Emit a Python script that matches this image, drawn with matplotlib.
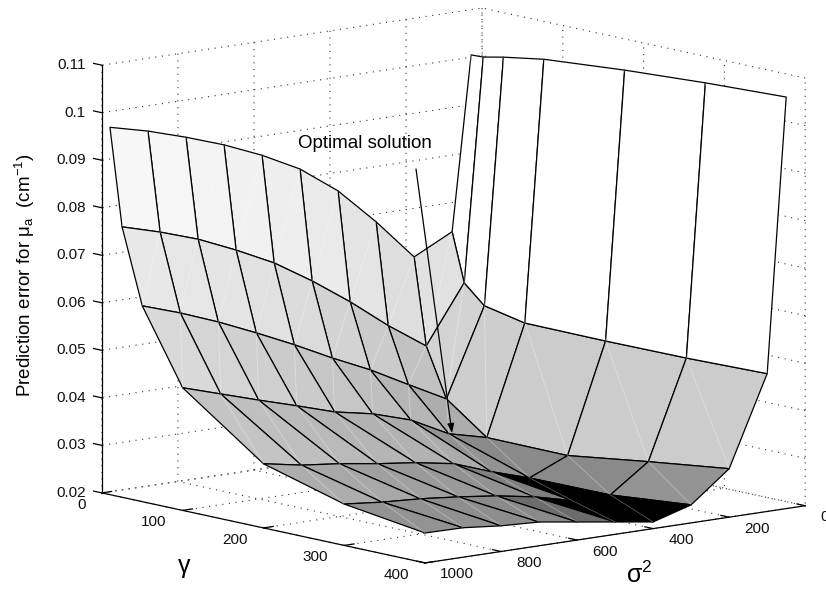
import matplotlib
matplotlib.use('Agg')
import matplotlib.pyplot as plt
import numpy as np
from mpl_toolkits.mplot3d import proj3d
from mpl_toolkits.mplot3d.art3d import Line3DCollection

plt.rcParams['font.family'] = ['Liberation Sans', 'DejaVu Sans']
plt.rcParams['mathtext.fontset'] = 'custom'
plt.rcParams['mathtext.rm'] = 'Liberation Sans'
plt.rcParams['mathtext.it'] = 'Liberation Sans'
plt.rcParams['mathtext.default'] = 'regular'

# grid of the regularisation scan
gamma = [10, 25, 50, 100, 200, 300, 400]
sigma2 = [1000, 900, 800, 700, 600, 500, 400, 300, 200, 100, 50]

# prediction error, one list per gamma
err_g10 = [.0973, .0953, .0928, .0900, .0866, .0825, .0767, .0690, .0604, .0645, .1011]
err_g25 = [.0769, .0746, .0719, .0684, .0645, .0595, .0539, .0477, .0422, .0543, .1012]
err_g50 = [.0612, .0585, .0554, .0519, .0482, .0442, .0405, .0362, .0320, .0504, .1021]
err_g100 = [.0458, .0433, .0408, .0384, .0359, .0343, .0318, .0277, .0257, .0486, .1035]
err_g200 = [.0335, .0320, .0311, .0299, .0289, .0275, .0246, .0221, .0256, .0485, .1049]
err_g300 = [.0287, .0279, .0274, .0266, .0256, .0242, .0222, .0222, .0280, .0486, .1059]
err_g400 = [.0263, .0262, .0254, .0250, .0238, .0226, .0214, .0238, .0302, .0490, .1066]

gamma_ticks = [0, 100, 200, 300, 400]
sigma2_ticks = [0, 200, 400, 600, 800, 1000]
err_ticks = [.02, .03, .04, .05, .06, .07, .08, .09, .1, .11]
err_ticklabels = ['0.02', '0.03', '0.04', '0.05', '0.06', '0.07', '0.08', '0.09', '0.1', '0.11']

# gray level of a facet against its corner value
level_z = [.0225, .0245, .0256, .028, .032, .0433, .0486, .0585, .0604, .0746, .0953, .101]
level_gray = [0, .5, .54, .58, .68, .77, .80, .85, .87, .91, .97, 1]

Z = np.array([err_g10, err_g25, err_g50, err_g100, err_g200, err_g300, err_g400])
X, Y = np.meshgrid(gamma, sigma2, indexing='ij')

W, H = 826, 594
side = 805.7
fig = plt.figure(figsize=(W/100, H/100), dpi=100)
ax = fig.add_axes([39.8/W, -105.2/H, side/W, side/H], projection='3d', proj_type='ortho',
                  computed_zorder=False)
ax.set_box_aspect((505, 495, 435), zoom=1)
ax.view_init(elev=10.4, azim=-39.8)

gray = np.interp(Z, level_z, level_gray)
colors = np.zeros(Z.shape + (4,))
colors[..., :3] = gray[..., None]
colors[..., 3] = 1
# facet takes the colour of its corner on the next sigma2 column
colors[:, :-1] = colors[:, 1:].copy()

ax.plot_surface(X, Y, Z, rstride=1, cstride=1, facecolors=colors, shade=False,
                edgecolor='k', linewidth=0.9, antialiased=True, zorder=1)

# faint seam across each facet
P = np.stack([X, Y, Z], axis=-1)
seams = [[P[i, j+1], P[i+1, j]] for i in range(len(gamma)-1) for j in range(len(sigma2)-1)]
ax.add_collection3d(Line3DCollection(seams, colors='white', linewidths=0.6, alpha=0.35, zorder=2))

ax.set_xlim(0, 400)
ax.set_ylim(1000, 0)
ax.set_zlim(.02, .11)
ax.set_xticks(gamma_ticks)
ax.set_yticks(sigma2_ticks)
ax.set_zticks(err_ticks)
ax.set_xticklabels([])
ax.set_yticklabels([])
ax.set_zticklabels([])
ax.zaxis.set_ticks_position('upper')

for axis in (ax.xaxis, ax.yaxis, ax.zaxis):
    axis.set_pane_color((1, 1, 1, 1))
    axis.pane.set_edgecolor('white')
    axis.line.set_color('k')
    axis.line.set_linewidth(0.9)
    axis._axinfo['grid'].update(color='#333333', linewidth=0.8, linestyle=(0, (1, 5)))
    axis._axinfo['tick'].update(inward_factor=0, outward_factor=0.32, linewidth={True: 0.9, False: 0.5})

# tick labels sit at a fixed pixel offset from the projected tick
M = ax.get_proj()
def tick_label(x, y, z, text, dx, dy, ha):
    px, py, _ = proj3d.proj_transform(x, y, z, M)
    ax.annotate(text, xy=(px, py), xytext=(dx, dy), textcoords='offset pixels',
                fontsize=11, ha=ha, va='center', color='#111111', annotation_clip=False, zorder=10)

for v in gamma_ticks:
    tick_label(v, 1000, .02, str(v), -16, -12, 'right')
for v in sigma2_ticks:
    tick_label(400, v, .02, str(v), 15, -11.5, 'left')
for v, s in zip(err_ticks, err_ticklabels):
    tick_label(0, 1000, v, s, -16, 0, 'right')

fig.text(25/W, 1-275/H, r'Prediction error for $\mu_a$  (cm$^{-1}$)', rotation=90,
         fontsize=13.5, ha='center', va='center')
fig.text(184/W, 1-566/H, '\u03b3', fontsize=18, ha='center', va='center')
fig.text(639/W, 1-575/H, '\u03c3$^2$', fontsize=18, ha='center', va='center')

ax.annotate('', xy=(452, H-433), xytext=(416, H-169), xycoords='figure pixels',
            textcoords='figure pixels', zorder=10, annotation_clip=False,
            arrowprops=dict(arrowstyle='-|>,head_length=0.55,head_width=0.2', color='k',
                            lw=0.9, shrinkA=0, shrinkB=0))
fig.text(364.5/W, 1-144/H, 'Optimal solution', fontsize=13.5, ha='center', va='center')

fig.savefig('out.png', dpi=100)
